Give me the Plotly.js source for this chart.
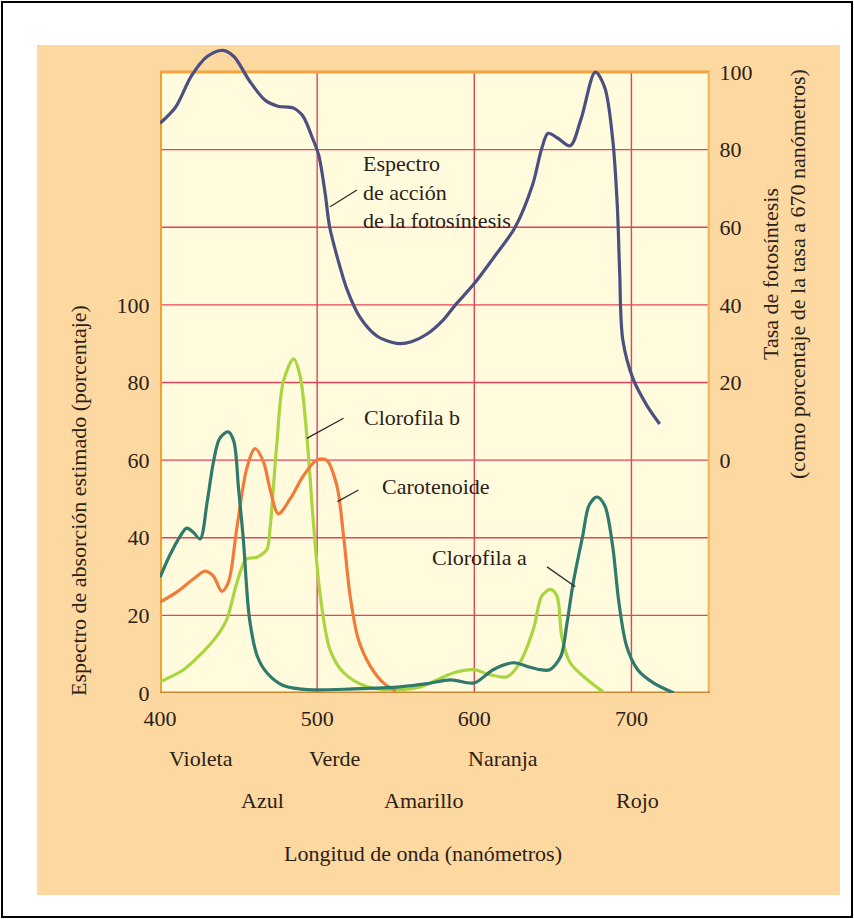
<!DOCTYPE html>
<html>
<head>
<meta charset="utf-8">
<script src="https://cdn.plot.ly/plotly-3.0.1.min.js"></script>
<style>html,body{margin:0;padding:0;background:#fff;}#chart{width:854px;height:919px;}</style>
</head>
<body>
<div id="chart"></div>
<script>
// ---- Data ----
// Photosynthesis action spectrum (right axis, % of rate at 670 nm)
const actionWl  = [400,410,420,430,440,447,457,467,475,485,491,497,501,505,508,513,519,527,538,548,553,560,570,580,588,600,612,626,637,643,647,653,661,668,677,683,688,691,692.5,694.5,701,710,718];
const actionVal = [86.8,91,99,104,105.6,104,97.7,92.7,91.2,90.7,88.6,83,78.6,69,60,52,44,37,32,30.3,30,30.5,32.5,36,40,45.5,52,60,70.8,80.4,84.2,83,81,88,100,96,83,65.6,48.6,31,21,14,9.3];

// Absorption spectra (left axis, %)
const chlAWl  = [400,406,413,417,421,425.5,430,434,438,443.5,447,450,453,457,462,468,478,490,500,520,553,570,585,600,612,625,634,642,648,655,659,663,669,673,678,683,688,692,697,704,714,727];
const chlAVal = [29.8,35.3,40.5,42.5,41.5,39.7,49.2,59.5,65.6,67.3,64.8,52.6,39.7,19,9.4,5.2,2,1,0.8,1,1.6,2.4,3.4,2.6,6,7.8,6.8,6,6,9.4,18,28.5,40.5,48.3,50.5,48.3,38,23.4,12,6,2.6,0];

const chlBWl  = [400,415,425.5,436,442.5,449,455,461.6,468,470,474.3,478.5,485,489,493.4,497.6,502,508.3,517,532,548,565,587,599.5,610,621,629,637.6,643,648.4,652.6,655.7,661,672,682];
const chlBVal = [2.9,6,9.8,14.6,19,28.5,34.5,35,37,42.3,64,80.3,86.1,82,66.4,44,25,11,5.2,1.6,0.8,1.5,5.2,6,4.7,4.2,7.8,16.4,25,26.7,25,14.5,7.8,3.4,0.3];

const carWl  = [400,410.6,421,428.7,434,439.3,443.5,448.8,455.2,460.5,465.8,470,475.3,482.8,491.3,499.8,506,512.5,516.8,521,526.3,534,542.2,550];
const carVal = [23.4,26,29.3,31.4,30.1,26.2,28.5,42.2,57.8,63,59.6,52.6,46.2,50,56,60,60,53.5,40.5,25,13.7,6.8,2.6,0.5];

// Axis ticks
const xTicks = [400,500,600,700];
const leftTicks = [0,20,40,60,80,100];
const rightTickVals = [-40,-20,0,20,40,60,80,100];
const rightTickText = ['','','0','20','40','60','80','100'];
const hGrid = [20,40,60,80,100,120,140];
const vGrid = [500,600,700];

// Colour band labels
const colorNames = ['Violeta','Verde','Naranja','Azul','Amarillo','Rojo'];
const colorPos   = [426,511,618.5,465,567.5,704];
const colorRow   = [0,0,0,1,1,1];

// ---- Layout helpers ----
const FONT = 'Liberation Serif, Times New Roman, serif';
const TXT = '#2a2118';
const PLOT_B = 693, PLOT_H = 652, PLOT_L = 160, PLOT_W = 550;
const py = p => (PLOT_B - p) / PLOT_H;   // pixel row -> paper y
const pxp = p => (p - PLOT_L) / PLOT_W;  // pixel col -> paper x

const lineStyle = (c) => ({color: c, width: 3.2, shape: 'spline', smoothing: 0.9});

const traces = [
  {x: chlBWl, y: chlBVal, type: 'scatter', mode: 'lines', line: lineStyle('#a9d640'), name: 'Clorofila b', hoverinfo: 'skip'},
  {x: carWl, y: carVal, type: 'scatter', mode: 'lines', line: lineStyle('#f07b3a'), name: 'Carotenoide', hoverinfo: 'skip'},
  {x: chlAWl, y: chlAVal, type: 'scatter', mode: 'lines', line: lineStyle('#2f7a6c'), name: 'Clorofila a', hoverinfo: 'skip'},
  {x: actionWl, y: actionVal, type: 'scatter', mode: 'lines', yaxis: 'y2', line: lineStyle('#4b5080'), name: 'Espectro de acción', hoverinfo: 'skip'}
];

const shapes = [];
// outer black frame and orange panel (paper)
shapes.push({type: 'rect', xref: 'paper', yref: 'paper', x0: pxp(2), x1: pxp(852), y0: py(917), y1: py(2), line: {color: '#000', width: 2}, fillcolor: '#ffffff', layer: 'below'});
shapes.push({type: 'rect', xref: 'paper', yref: 'paper', x0: pxp(37), x1: pxp(840), y0: py(895), y1: py(45), line: {width: 0}, fillcolor: '#fdd8a0', layer: 'below'});
// cream plot field
shapes.push({type: 'rect', xref: 'x', yref: 'y', x0: 400, x1: 750, y0: 0, y1: 160, line: {width: 0}, fillcolor: '#fffbdc', layer: 'below'});
// grid
hGrid.forEach(v => shapes.push({type: 'line', xref: 'x', yref: 'y', x0: 400, x1: 750, y0: v, y1: v, line: {color: '#e6405e', width: 1.4}, layer: 'below'}));
vGrid.forEach(v => shapes.push({type: 'line', xref: 'x', yref: 'y', x0: v, x1: v, y0: 0, y1: 160, line: {color: '#e6405e', width: 1.4}, layer: 'below'}));
// border
shapes.push({type: 'line', xref: 'x', yref: 'y', x0: 400, x1: 750, y0: 160, y1: 160, line: {color: '#f0a640', width: 3}, layer: 'below'});
shapes.push({type: 'line', xref: 'x', yref: 'y', x0: 750, x1: 750, y0: 0, y1: 160, line: {color: '#f3bb5a', width: 5}, layer: 'below'});
shapes.push({type: 'line', xref: 'x', yref: 'y', x0: 400, x1: 400, y0: 0, y1: 160, line: {color: '#f2a22a', width: 4}, layer: 'below'});
shapes.push({type: 'line', xref: 'x', yref: 'y', x0: 398, x1: 752, y0: 0, y1: 0, line: {color: '#c98830', width: 3}, layer: 'below'});
// leader lines
const leader = (x0, y0, x1, y1) => ({type: 'line', xref: 'x', yref: 'y', x0, y0, x1, y1, line: {color: '#2b2b2b', width: 1.3}});
shapes.push(leader(525.3, 129.6, 508.3, 125.3));
shapes.push(leader(516.8, 70.8, 493.4, 65.6));
shapes.push(leader(526.3, 52.3, 512.9, 49.3));
shapes.push(leader(646.3, 32.5, 664.3, 27.4));

const annFont = {family: FONT, size: 22, color: TXT};
const ann = (text, x, y, xanchor) => ({text, x, y, xref: 'x', yref: 'y', xanchor: xanchor || 'left', yanchor: 'middle', align: 'left', showarrow: false, font: annFont});
const annotations = [
  ann('Espectro<br>de acción<br>de la fotosíntesis', 528, 129.1),
  ann('Clorofila b', 528.7, 71.1),
  ann('Carotenoide', 540, 53.1),
  ann('Clorofila a', 572, 34.8)
];
colorNames.forEach((n, i) => annotations.push({text: n, x: colorPos[i], xref: 'x', y: py(colorRow[i] ? 800 : 758), yref: 'paper', xanchor: 'center', yanchor: 'middle', showarrow: false, font: annFont}));
annotations.push({text: 'Longitud de onda (nanómetros)', x: pxp(423), xref: 'paper', y: py(853), yref: 'paper', xanchor: 'center', yanchor: 'middle', showarrow: false, font: annFont});
annotations.push({text: 'Espectro de absorción estimado (porcentaje)', x: pxp(79), xref: 'paper', y: py(501), yref: 'paper', xanchor: 'center', yanchor: 'middle', textangle: -90, showarrow: false, font: annFont});
annotations.push({text: 'Tasa de fotosíntesis', x: pxp(770), xref: 'paper', y: py(274), yref: 'paper', xanchor: 'center', yanchor: 'middle', textangle: -90, showarrow: false, font: annFont});
annotations.push({text: '(como porcentaje de la tasa a 670 nanómetros)', x: pxp(797), xref: 'paper', y: py(274), yref: 'paper', xanchor: 'center', yanchor: 'middle', textangle: -90, showarrow: false, font: annFont});

const tickFont = {family: FONT, size: 22, color: TXT};
const layout = {
  width: 854, height: 919,
  margin: {l: PLOT_L, r: 854 - PLOT_L - PLOT_W, t: PLOT_B - PLOT_H, b: 919 - PLOT_B, pad: 0, autoexpand: false},
  paper_bgcolor: '#ffffff',
  plot_bgcolor: 'rgba(0,0,0,0)',
  showlegend: false,
  font: {family: FONT, color: TXT},
  xaxis: {range: [400, 750], tickvals: xTicks, ticktext: xTicks.map(String), showgrid: false, zeroline: false, showline: false, automargin: false,
          ticks: 'outside', ticklen: 6, tickcolor: 'rgba(0,0,0,0)', tickfont: tickFont, fixedrange: true},
  yaxis: {range: [0, 168], tickvals: leftTicks, ticktext: leftTicks.map(String), showgrid: false, zeroline: false, showline: false, automargin: false,
          ticks: 'outside', ticklen: 5, tickcolor: 'rgba(0,0,0,0)', tickfont: tickFont, fixedrange: true},
  yaxis2: {range: [-60, 108], overlaying: 'y', side: 'right', tickvals: rightTickVals, ticktext: rightTickText, showgrid: false, zeroline: false, showline: false, automargin: false,
           ticks: 'outside', ticklen: 4, tickcolor: 'rgba(0,0,0,0)', tickfont: tickFont, fixedrange: true},
  shapes, annotations
};

Plotly.newPlot('chart', traces, layout, {displayModeBar: false, staticPlot: true});
</script>
</body>
</html>
